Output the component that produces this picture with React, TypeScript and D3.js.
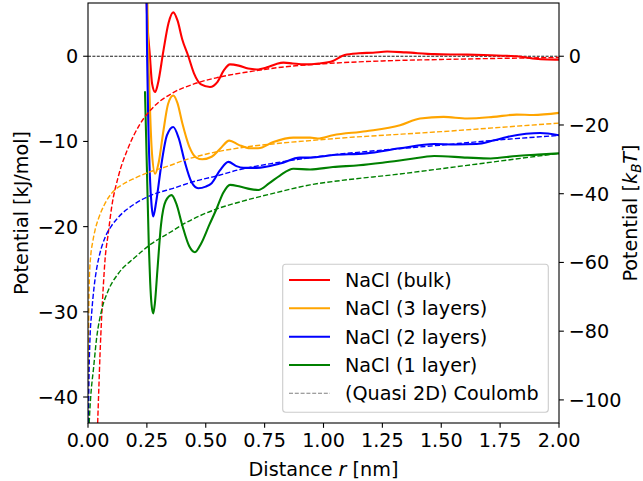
import React from 'react';
import * as d3 from 'd3';

// Figure geometry
const W = 643;
const H = 481;
const PLOT = { left: 88, right: 559, top: 3, bottom: 423 };
const FONT = 'DejaVu Sans, sans-serif';
const FS = 19.2;

// Axis settings
const X_DOMAIN: [number, number] = [0, 2];
const Y_DOMAIN: [number, number] = [-43.05, 6.25];
const KJMOL_TO_KBT = 2.479;
const xTicks = [0, 0.25, 0.5, 0.75, 1.0, 1.25, 1.5, 1.75, 2.0];
const leftTicks = [-40, -30, -20, -10, 0];
const rightTicks = [-100, -80, -60, -40, -20, 0];

// Potential of mean force, solid curves (r in nm, V in kJ/mol)
const bulkR = [0.246, 0.249, 0.263, 0.272, 0.285, 0.297, 0.32, 0.342, 0.362, 0.38, 0.4, 0.426, 0.45, 0.48, 0.518, 0.55, 0.578, 0.603, 0.64, 0.68, 0.716, 0.76, 0.8, 0.83, 0.87, 0.92, 0.98, 1.04, 1.09, 1.15, 1.21, 1.27, 1.35, 1.47, 1.58, 1.68, 1.78, 1.84, 1.9, 1.95, 2.0];
const bulkV = [20, 6.2, 0, -3.2, -4.2, -3.2, 0.6, 3.9, 5.15, 4.2, 2.0, 0, -2.0, -3.3, -3.6, -3.0, -1.6, -0.95, -1.1, -1.45, -1.55, -1.3, -0.9, -0.75, -0.85, -0.95, -0.85, -0.55, 0.15, 0.35, 0.42, 0.55, 0.45, 0.25, 0.2, 0.15, 0.05, -0.05, -0.3, -0.38, -0.4];

const layer3R = [0.2495, 0.2525, 0.262, 0.272, 0.285, 0.3, 0.32, 0.34, 0.362, 0.38, 0.4, 0.43, 0.46, 0.485, 0.525, 0.56, 0.6, 0.64, 0.688, 0.723, 0.787, 0.872, 0.943, 0.975, 1.04, 1.18, 1.325, 1.41, 1.51, 1.61, 1.72, 1.82, 1.89, 2.0];
const layer3V = [20, 6.2, -5, -11.5, -13.8, -12.5, -8.8, -5.6, -4.6, -5.5, -7.8, -10.6, -11.9, -12.1, -11.8, -10.9, -9.9, -10.4, -10.8, -10.8, -10.06, -9.55, -9.55, -9.66, -9.27, -8.8, -8.1, -7.3, -7.12, -7.3, -7.12, -6.85, -6.9, -6.65];

const layer2R = [0.247, 0.249, 0.2535, 0.263, 0.27, 0.277, 0.29, 0.31, 0.335, 0.362, 0.385, 0.41, 0.44, 0.468, 0.5, 0.525, 0.56, 0.596, 0.63, 0.66, 0.716, 0.815, 0.9, 0.943, 1.04, 1.18, 1.325, 1.47, 1.56, 1.65, 1.72, 1.78, 1.86, 1.92, 2.0];
const layer2V = [20, 6.2, -4, -14.2, -17.5, -18.8, -17, -13, -9.3, -8.3, -9.6, -12.3, -14.8, -15.5, -15.3, -14.9, -13.4, -12.4, -12.9, -13.1, -13.1, -12.6, -11.9, -11.9, -11.6, -11.4, -10.8, -10.3, -10.35, -10.3, -9.9, -9.47, -9.1, -9.0, -9.27];

const layer1R = [0.242, 0.25, 0.258, 0.264, 0.27, 0.277, 0.284, 0.295, 0.31, 0.33, 0.355, 0.375, 0.4, 0.43, 0.454, 0.48, 0.515, 0.546, 0.575, 0.603, 0.645, 0.69, 0.723, 0.77, 0.815, 0.872, 0.943, 1.04, 1.15, 1.25, 1.36, 1.47, 1.61, 1.71, 1.82, 1.91, 2.0];
const layer1V = [-4.1, -13, -22, -26.5, -29.2, -30.2, -29, -25, -19.8, -17, -16.3, -17.3, -19.8, -22.3, -23.0, -22, -19.8, -17.9, -16, -15.1, -15.3, -15.6, -15.7, -14.9, -14.0, -13.2, -13.3, -13.0, -12.8, -12.5, -12.1, -11.7, -11.9, -12.0, -11.7, -11.55, -11.4];

// (Quasi 2D) Coulomb reference curves
const coulBulkR = [0.041, 0.046, 0.051, 0.058, 0.065, 0.072, 0.086, 0.1, 0.13, 0.17, 0.22, 0.28, 0.36, 0.45, 0.55, 0.7, 0.85, 1.0, 1.25, 1.5, 1.75, 2.0];
const coulBulkV = [-43.05, -39, -35, -30.6, -27, -24, -20.8, -17.8, -14.0, -10.8, -8.0, -5.9, -4.3, -3.25, -2.5, -1.75, -1.2, -0.88, -0.55, -0.38, -0.25, -0.15];

const coul3R = [0.001, 0.003, 0.006, 0.012, 0.02, 0.03, 0.044, 0.07, 0.1, 0.15, 0.2, 0.26, 0.34, 0.42, 0.5, 0.645, 0.8, 0.943, 1.1, 1.3, 1.5, 1.75, 2.0];
const coul3V = [-43.05, -31, -26, -23.3, -21.8, -20.4, -19.1, -17.4, -16.1, -15.0, -14.3, -13.6, -12.9, -12.1, -11.5, -10.75, -10.25, -9.9, -9.55, -9.2, -8.85, -8.35, -7.85];

const coul2R = [0.002, 0.004, 0.008, 0.016, 0.025, 0.037, 0.05, 0.072, 0.1, 0.129, 0.2, 0.27, 0.362, 0.45, 0.539, 0.645, 0.8, 0.943, 1.1, 1.3, 1.47, 1.65, 1.8, 2.0];
const coul2V = [-43.05, -38, -33.5, -30, -27.3, -24.9, -23.2, -21.3, -19.9, -18.9, -17.3, -16.3, -15.5, -14.7, -14.1, -13.3, -12.5, -11.9, -11.4, -10.9, -10.5, -10.05, -9.7, -9.3];

const coul1R = [0.005, 0.0085, 0.015, 0.0225, 0.037, 0.058, 0.086, 0.129, 0.2, 0.27, 0.341, 0.412, 0.539, 0.645, 0.8, 0.943, 1.1, 1.3, 1.5, 1.75, 2.0];
const coul1V = [-43.05, -41.2, -38.8, -36.9, -33, -29.8, -27.5, -25.5, -23.6, -22, -20.8, -19.6, -18.0, -17.1, -16.0, -15.1, -14.5, -13.9, -13.2, -12.3, -11.4];

const seriesLabels = ['NaCl (bulk)', 'NaCl (3 layers)', 'NaCl (2 layers)', 'NaCl (1 layer)'];
const seriesColors = ['#ff0000', '#ffa500', '#0000ff', '#008000'];
const coulombLabel = '(Quasi 2D) Coulomb';

const solid = [
  { r: bulkR, v: bulkV },
  { r: layer3R, v: layer3V },
  { r: layer2R, v: layer2V },
  { r: layer1R, v: layer1V },
];
const dashed = [
  { r: coulBulkR, v: coulBulkV },
  { r: coul3R, v: coul3V },
  { r: coul2R, v: coul2V },
  { r: coul1R, v: coul1V },
];

const fmtMinus = (s: string) => s.replace('-', '\u2212');

export default function App() {
  const x = d3.scaleLinear().domain(X_DOMAIN).range([PLOT.left, PLOT.right]);
  const y = d3.scaleLinear().domain(Y_DOMAIN).range([PLOT.bottom, PLOT.top]);
  const y2 = d3
    .scaleLinear()
    .domain([Y_DOMAIN[0] * KJMOL_TO_KBT, Y_DOMAIN[1] * KJMOL_TO_KBT])
    .range([PLOT.bottom, PLOT.top]);

  const line = d3
    .line<[number, number]>()
    .x((d) => x(d[0]))
    .y((d) => y(d[1]))
    .curve(d3.curveMonotoneX);

  const toPts = (s: { r: number[]; v: number[] }) =>
    s.r.map((r, i) => [r, s.v[i]] as [number, number]);

  const tickLen = 4.86;
  const pad = 4.86;

  // legend layout
  const lg = { x0: 282.7, y0: 264.3, x1: 548.3, y1: 412.3 };
  const rowY = [280, 308.3, 336.7, 365, 393.3];

  return (
    <svg
      width={W}
      height={H}
      style={{ position: 'absolute', left: 0, top: 0, background: '#fff' }}
      fontFamily={FONT}
    >
      <defs>
        <clipPath id="plot-clip">
          <rect
            x={PLOT.left}
            y={PLOT.top}
            width={PLOT.right - PLOT.left}
            height={PLOT.bottom - PLOT.top}
          />
        </clipPath>
      </defs>
      <rect x={0} y={0} width={W} height={H} fill="#fff" />

      <g clipPath="url(#plot-clip)">
        {/* zero reference */}
        <line
          x1={PLOT.left}
          x2={PLOT.right}
          y1={y(0)}
          y2={y(0)}
          stroke="#000"
          strokeWidth={0.9}
          strokeDasharray="3,1.4"
        />
        {solid.map((s, i) => (
          <path
            key={'s' + i}
            d={line(toPts(s)) || ''}
            fill="none"
            stroke={seriesColors[i]}
            strokeWidth={2.08}
            strokeLinejoin="round"
          />
        ))}
        {dashed.map((s, i) => (
          <path
            key={'d' + i}
            d={line(toPts(s)) || ''}
            fill="none"
            stroke={seriesColors[i]}
            strokeWidth={1.4}
            strokeDasharray="5.1,2.2"
          />
        ))}
      </g>

      {/* frame */}
      <rect
        x={PLOT.left}
        y={PLOT.top}
        width={PLOT.right - PLOT.left}
        height={PLOT.bottom - PLOT.top}
        fill="none"
        stroke="#000"
        strokeWidth={1.1}
      />

      {/* bottom axis */}
      {xTicks.map((t) => (
        <g key={'xt' + t}>
          <line
            x1={x(t)}
            x2={x(t)}
            y1={PLOT.bottom}
            y2={PLOT.bottom + tickLen}
            stroke="#000"
            strokeWidth={1.1}
          />
          <text
            x={x(t)}
            y={PLOT.bottom + tickLen + pad + 14.6}
            textAnchor="middle"
            fontSize={FS}
            fill="#000"
          >
            {t.toFixed(2)}
          </text>
        </g>
      ))}
      <text
        x={(PLOT.left + PLOT.right) / 2}
        y={476}
        textAnchor="middle"
        fontSize={FS}
        fill="#000"
      >
        Distance <tspan fontStyle="italic">r</tspan> [nm]
      </text>

      {/* left axis */}
      {leftTicks.map((t) => (
        <g key={'yl' + t}>
          <line
            x1={PLOT.left - tickLen}
            x2={PLOT.left}
            y1={y(t)}
            y2={y(t)}
            stroke="#000"
            strokeWidth={1.1}
          />
          <text
            x={PLOT.left - tickLen - pad}
            y={y(t) + 7}
            textAnchor="end"
            fontSize={FS}
            fill="#000"
          >
            {fmtMinus(String(t))}
          </text>
        </g>
      ))}
      <text
        transform={`translate(28, ${(PLOT.top + PLOT.bottom) / 2}) rotate(-90)`}
        textAnchor="middle"
        fontSize={FS}
        fill="#000"
      >
        Potential [kJ/mol]
      </text>

      {/* right axis */}
      {rightTicks.map((t) => (
        <g key={'yr' + t}>
          <line
            x1={PLOT.right}
            x2={PLOT.right + tickLen}
            y1={y2(t)}
            y2={y2(t)}
            stroke="#000"
            strokeWidth={1.1}
          />
          <text
            x={PLOT.right + tickLen + pad}
            y={y2(t) + 7}
            textAnchor="start"
            fontSize={FS}
            fill="#000"
          >
            {fmtMinus(String(t))}
          </text>
        </g>
      ))}
      <text
        transform={`translate(637, ${(PLOT.top + PLOT.bottom) / 2}) rotate(-90)`}
        textAnchor="middle"
        fontSize={FS}
        fill="#000"
      >
        Potential [<tspan fontStyle="italic">k</tspan>
        <tspan fontStyle="italic" fontSize={FS * 0.7} dy={3.5}>B</tspan>
        <tspan fontStyle="italic" dy={-3.5}>T</tspan>]
      </text>

      {/* legend */}
      <rect
        x={lg.x0}
        y={lg.y0}
        width={lg.x1 - lg.x0}
        height={lg.y1 - lg.y0}
        rx={3}
        fill="#fff"
        fillOpacity={0.8}
        stroke="#cccccc"
        strokeWidth={1.1}
      />
      {seriesLabels.map((lab, i) => (
        <g key={'lg' + i}>
          <line
            x1={289}
            x2={330}
            y1={rowY[i]}
            y2={rowY[i]}
            stroke={seriesColors[i]}
            strokeWidth={2.08}
          />
          <text x={345} y={rowY[i] + 7} fontSize={FS} fill="#000">
            {lab}
          </text>
        </g>
      ))}
      <line
        x1={289}
        x2={330}
        y1={rowY[4]}
        y2={rowY[4]}
        stroke="#808080"
        strokeWidth={1.1}
        strokeDasharray="4,1.8"
      />
      <text x={345} y={rowY[4] + 7} fontSize={FS} fill="#000">
        {coulombLabel}
      </text>
    </svg>
  );
}
